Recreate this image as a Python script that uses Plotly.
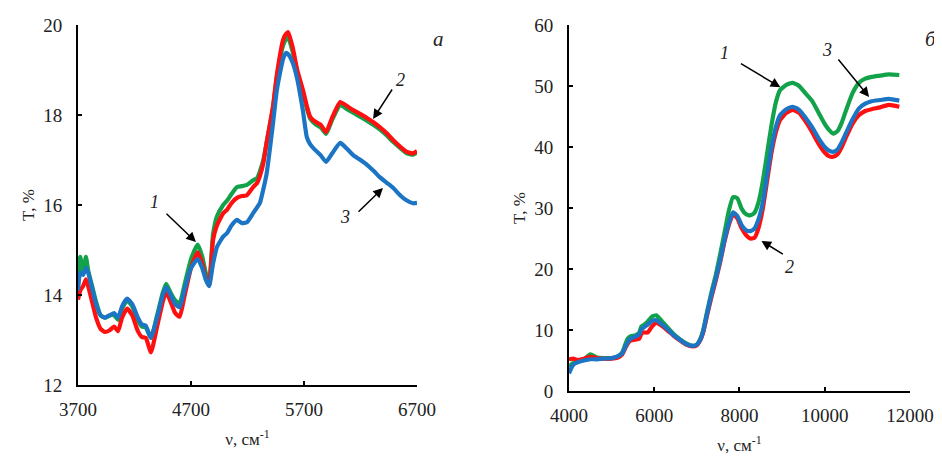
import plotly.graph_objects as go
from plotly.subplots import make_subplots

# panel a: 3700-6700 cm-1
nu_a = [3700, 3720, 3745, 3770, 3790, 3820, 3860, 3900, 3940, 3980, 4020, 4055, 4090,
        4135, 4180, 4230, 4265, 4300, 4345, 4400, 4450, 4480, 4520, 4560, 4600, 4640,
        4700, 4760, 4800, 4830, 4860, 4895, 4930, 4985, 5020, 5060, 5107, 5150, 5195,
        5250, 5285, 5310, 5340, 5370, 5425, 5460, 5515, 5540, 5560, 5600, 5640, 5690,
        5725, 5755, 5800, 5850, 5895, 5950, 6020, 6080, 6135, 6200, 6260, 6320, 6370,
        6430, 6490, 6550, 6610, 6665, 6700]
t1_a = [14.3, 14.85, 14.5, 14.85, 14.55, 14.25, 13.85, 13.55, 13.5, 13.55, 13.55, 13.45, 13.7,
        13.88, 13.75, 13.45, 13.3, 13.28, 13.05, 13.55, 14.05, 14.25, 14.05, 13.88, 13.82, 14.2,
        14.8, 15.12, 14.85, 14.5, 14.27, 15.35, 15.75, 16.0, 16.1, 16.25, 16.4, 16.42, 16.45,
        16.55, 16.6, 16.75, 17.0, 17.4, 18.15, 18.85, 19.55, 19.68, 19.72, 19.4, 18.95, 18.5,
        18.15, 17.92, 17.8, 17.72, 17.58, 17.9, 18.22, 18.13, 18.05, 17.96, 17.87, 17.77, 17.68,
        17.55, 17.4, 17.27, 17.15, 17.12, 17.17]
t2_a = [13.9, 14.1, 14.2, 14.35, 14.2, 13.9, 13.5, 13.25, 13.18, 13.22, 13.3, 13.2, 13.5,
        13.7, 13.55, 13.2, 13.07, 13.05, 12.73, 13.3, 13.85, 14.07, 13.85, 13.6, 13.52, 13.95,
        14.6, 14.95, 14.7, 14.4, 14.22, 15.22, 15.55, 15.82, 15.9, 16.05, 16.16, 16.2, 16.22,
        16.4, 16.49, 16.65, 16.93, 17.4, 18.18, 18.9, 19.67, 19.8, 19.84, 19.5, 19.0, 18.56,
        18.2, 17.96, 17.85, 17.78, 17.62, 17.95, 18.29, 18.2, 18.11, 18.02, 17.93, 17.83, 17.73,
        17.6, 17.44, 17.3, 17.18, 17.15, 17.2]
t3_a = [14.1, 14.5, 14.45, 14.6, 14.5, 14.2, 13.8, 13.55, 13.5, 13.55, 13.6, 13.5, 13.75,
        13.92, 13.8, 13.5, 13.35, 13.32, 13.05, 13.5, 14.0, 14.18, 14.0, 13.8, 13.73, 14.1,
        14.6, 14.8, 14.6, 14.35, 14.2, 14.7, 15.07, 15.3, 15.38, 15.55, 15.67, 15.6, 15.62,
        15.82, 15.95, 16.05, 16.35, 16.71, 17.8, 18.56, 19.25, 19.38, 19.35, 19.16, 18.8, 18.1,
        17.51, 17.35, 17.22, 17.1, 16.96, 17.15, 17.38, 17.25, 17.11, 17.0, 16.89, 16.75, 16.62,
        16.5, 16.38, 16.22, 16.1, 16.04, 16.05]

# panel b: 4000-12000 cm-1
nu_b = [4000, 4100, 4200, 4350, 4500, 4650, 4800, 5000, 5150, 5250, 5320, 5380, 5450, 5550,
        5650, 5700, 5750, 5850, 5950, 6050, 6150, 6300, 6450, 6600, 6750, 6900, 7000, 7080,
        7150, 7250, 7350, 7450, 7550, 7650, 7750, 7850, 7950, 8050, 8150, 8250, 8350, 8450,
        8550, 8650, 8750, 8850, 8950, 9100, 9250, 9400, 9550, 9700, 9850, 10000, 10100, 10200,
        10300, 10400, 10500, 10650, 10800, 10950, 11100, 11300, 11500, 11750]
t1_b = [4.0, 4.6, 4.9, 5.2, 6.0, 5.5, 5.4, 5.4, 5.7, 6.3, 7.6, 8.6, 9.0, 9.1,
        9.6, 10.6, 10.8, 11.4, 12.2, 12.4, 11.7, 10.5, 9.4, 8.5, 7.8, 7.4, 7.6, 8.5,
        10.0, 13.3, 16.4, 19.2, 22.5, 26.0, 29.5, 31.8, 31.6, 29.9, 29.0, 28.8, 29.2, 31.0,
        34.5, 39.0, 43.5, 47.2, 49.3, 50.2, 50.5, 50.0, 48.8, 47.6, 45.7, 43.8, 42.8, 42.2,
        42.6, 44.0, 46.0, 48.8, 50.5, 51.2, 51.5, 51.7, 51.9, 51.8]
t2_b = [5.2, 5.3, 5.1, 5.3, 5.6, 5.4, 5.3, 5.3, 5.5, 6.0, 7.0, 7.8, 8.3, 8.4,
        8.6, 9.4, 9.6, 9.6, 10.6, 11.2, 10.8, 10.0, 9.1, 8.3, 7.6, 7.3, 7.5, 8.3,
        9.6, 12.7, 15.6, 18.3, 21.2, 24.5, 27.2, 29.0, 28.3, 26.7, 25.6, 25.0, 25.1, 26.8,
        30.0, 34.5, 39.0, 42.3, 44.4, 45.6, 46.1, 45.6, 44.2, 42.5, 40.6, 39.1, 38.5, 38.4,
        38.8, 40.0, 41.6, 43.8, 45.2, 45.9, 46.2, 46.5, 46.9, 46.6]
t3_b = [2.9, 4.3, 4.7, 5.0, 5.2, 5.2, 5.3, 5.4, 5.7, 6.2, 7.2, 8.0, 8.6, 8.9,
        9.3, 10.1, 10.4, 10.9, 11.5, 11.6, 11.1, 10.2, 9.2, 8.4, 7.7, 7.4, 7.6, 8.4,
        9.8, 13.0, 16.0, 18.6, 21.5, 24.8, 27.5, 29.3, 28.7, 27.2, 26.4, 26.2, 26.6, 28.2,
        31.0, 35.5, 39.8, 43.2, 45.2, 46.2, 46.6, 46.1, 44.8, 43.3, 41.5, 40.0, 39.4, 39.2,
        39.6, 40.8, 42.3, 44.5, 46.3, 47.1, 47.5, 47.7, 47.9, 47.6]

ticks_a = [3700, 4700, 5700, 6700]
ticks_b = [4000, 6000, 8000, 10000, 12000]
yticks_a = [12, 14, 16, 18, 20]
yticks_b = [0, 10, 20, 30, 40, 50, 60]

colors = ["#12a24a", "#ff1010", "#1b75c4"]
FONT = "Liberation Serif, Times New Roman, serif"

fig = make_subplots(rows=1, cols=2)

for col, nu, series in [(1, nu_a, [t1_a, t2_a, t3_a]), (2, nu_b, [t1_b, t2_b, t3_b])]:
    for t, c in zip(series, colors):
        fig.add_trace(
            go.Scatter(x=nu, y=t, mode="lines",
                       line=dict(color=c, width=4.2, shape="spline", smoothing=0.5),
                       showlegend=False),
            row=1, col=col,
        )

axis_style = dict(
    showline=True, linecolor="black", linewidth=2, showgrid=False, zeroline=False,
    ticks="inside", ticklen=4, tickwidth=1.5, tickcolor="black", automargin=False,
    tickfont=dict(family=FONT, size=19, color="#222"),
)
title_font = dict(family=FONT, size=17, color="#222")

fig.update_xaxes(axis_style, ticklabelstandoff=6)
fig.update_yaxes(axis_style, ticklabelstandoff=10)

fig.update_layout(
    xaxis=dict(domain=[0.0743, 0.4342], range=[3700, 6700], tickvals=ticks_a,
               ticktext=[str(v) for v in ticks_a],
               title=dict(text="ν, см<sup>-1</sup>", font=title_font, standoff=14)),
    yaxis=dict(domain=[0.016, 1], range=[12, 20], tickvals=yticks_a,
               title=dict(text="T, %", font=title_font, standoff=4)),
    xaxis2=dict(domain=[0.5955, 0.9575], range=[4000, 12000], tickvals=ticks_b,
                ticktext=[str(v) for v in ticks_b],
                title=dict(text="ν, см<sup>-1</sup>", font=title_font, standoff=14)),
    yaxis2=dict(domain=[0, 1], range=[0, 60], tickvals=yticks_b,
                title=dict(text="T, %", font=title_font, standoff=4)),
    width=942, height=461,
    margin=dict(l=0, r=0, t=17, b=78),
    plot_bgcolor="white", paper_bgcolor="white",
)

lbl = dict(family=FONT, size=18, color="#222")
ital = dict(family=FONT, size=21, color="#222")

# panel letters
fig.add_annotation(x=0.4565, y=1.0, xref="paper", yref="paper", text="<i>а</i>",
                   showarrow=False, font=ital)
fig.add_annotation(x=0.988, y=1.0, xref="paper", yref="paper", text="<i>б</i>",
                   showarrow=False, font=ital)

# curve numbers and arrows
arrows = [
    ("x", "y", 4381, 16.07, 4470, 15.84, 4744, 15.18, "1"),
    ("x", "y", 6550, 18.78, 6488, 18.6, 6311, 17.91, "2"),
    ("x", "y", 6063, 15.73, 6169, 15.82, 6399, 16.38, "3"),
    ("x2", "y2", 7649, 55.4, 8000, 53.8, 8959, 49.8, "1"),
    ("x2", "y2", 9170, 20.3, 9053, 22.3, 8515, 24.6, "2"),
    ("x2", "y2", 10058, 55.9, 10292, 54.6, 11041, 48.2, "3"),
]
for xr, yr, tx, ty, ax0, ay0, hx, hy, s in arrows:
    fig.add_annotation(x=tx, y=ty, xref=xr, yref=yr, text=f"<i>{s}</i>", showarrow=False, font=lbl)
    fig.add_annotation(x=hx, y=hy, ax=ax0, ay=ay0, xref=xr, yref=yr, axref=xr, ayref=yr,
                       text="", showarrow=True, arrowhead=2, arrowsize=1.3, arrowwidth=1.5,
                       arrowcolor="black")

fig.write_html("out.html")
